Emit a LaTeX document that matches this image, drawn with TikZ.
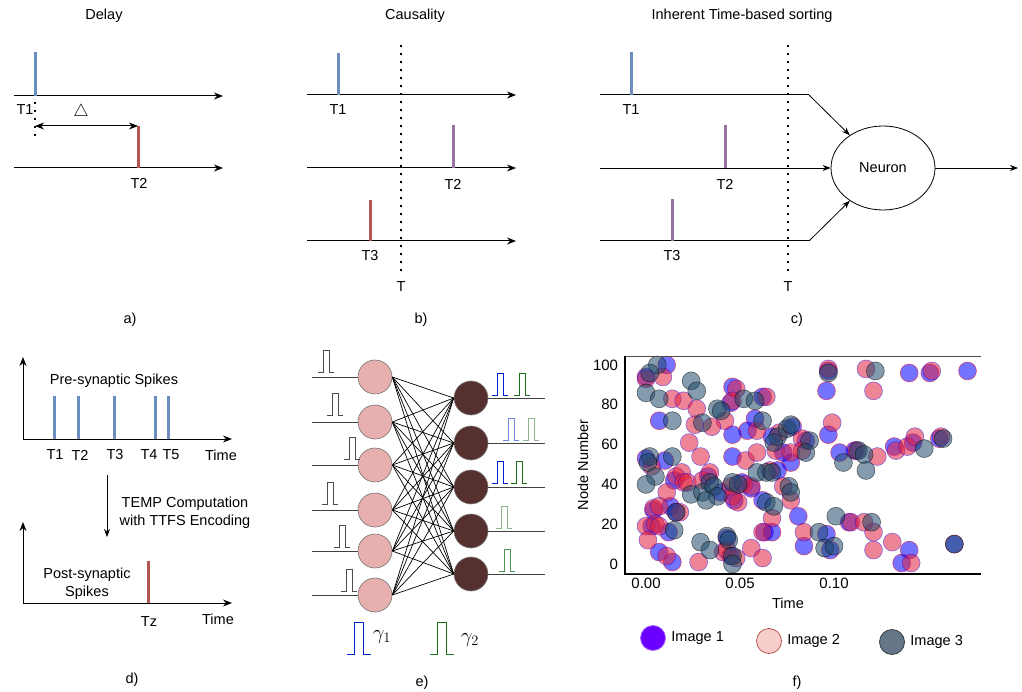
\documentclass[tikz,border=0pt]{standalone}
\usepackage{fontspec}
\setmainfont{Liberation Sans}
\usetikzlibrary{arrows.meta,shapes.geometric,positioning}

\definecolor{spikeblue}{HTML}{6C8EBF}
\definecolor{spikered}{HTML}{B85450}
\definecolor{spikepurple}{HTML}{9673A6}
\definecolor{inpink}{HTML}{E8AFAF}
\definecolor{outbrown}{HTML}{55302E}
\definecolor{dotblue}{HTML}{0000FF}
\definecolor{dotred}{HTML}{E02040}
\definecolor{dotgray}{HTML}{1F4A6A}
\definecolor{legblue}{HTML}{6A00FF}
\definecolor{legpink}{HTML}{F8CECC}
\definecolor{leggray}{HTML}{647687}
\definecolor{pulseblue}{HTML}{0022CC}
\definecolor{pulsegreen}{HTML}{1B6E1B}

\tikzset{
	axis/.style={line width=1pt, -{Stealth[length=9pt,width=7pt]}},
	both/.style={line width=1pt, {Stealth[length=9pt,width=7pt]}-{Stealth[length=9pt,width=7pt]}},
	feed/.style={line width=0.8pt, -{Stealth[length=8pt,width=6pt]}},
	plain/.style={line width=1pt},
	spike/.style={line width=3pt},
	cutline/.style={line width=2pt, dash pattern=on 2pt off 6pt},
	inneuron/.style={circle, fill=inpink, draw=black!55, line width=0.6pt, minimum size=34pt, inner sep=0pt},
	outneuron/.style={circle, fill=outbrown, draw=black!50, line width=0.6pt, minimum size=34pt, inner sep=0pt},
	link/.style={line width=0.7pt},
	img1/.style={fill=dotblue, fill opacity=0.55, draw=red, draw opacity=0.6, line width=0.5pt},
	img2/.style={fill=dotred, fill opacity=0.55, draw=blue, draw opacity=0.5, line width=0.5pt},
	img3/.style={fill=dotgray, fill opacity=0.55, draw=black, draw opacity=0.6, line width=0.5pt},
	legdot/.style={circle, minimum size=25pt, inner sep=0pt, line width=0.8pt},
	pics/pulse/.style={code={\draw (-8,0) -- (-3,0) -- (-3,-22) -- (3,-22) -- (3,0) -- (8,0);}}
}

\begin{document}
\begin{tikzpicture}[x=1pt, y=-1pt, font=\fontsize{14.5}{18}\selectfont]
	\useasboundingbox (0,0) rectangle (1022,692);

	% a) Delay
	\coordinate (a1s) at (14,96);
	\coordinate (a1e) at (223,96);
	\coordinate (a2s) at (14,168);
	\coordinate (a2e) at (223,168);
	\node (delay) at (104,16) {Delay};
	\draw[axis] (a1s) -- (a1e);
	\draw[axis] (a2s) -- (a2e);
	\draw[spike, spikeblue] (35,96) -- ++(0,-44);
	\draw[cutline] (35,102) -- (35,138);
	\draw[spike, spikered] (138,168) -- ++(0,-42);
	\draw[both] (35,126) -- (138,126);
	\node at (25,110) {T1};
	\node[font=\fontsize{19}{22}\selectfont] at (81,112) {$\triangle$};
	\node at (139,183) {T2};
	\node at (130,320) {a)};

	% b) Causality
	\coordinate (b1s) at (307,95);
	\coordinate (b1e) at (516,95);
	\coordinate (b2s) at (307,168);
	\coordinate (b2e) at (516,168);
	\coordinate (b3s) at (307,241);
	\coordinate (b3e) at (516,241);
	\node (causality) at (415,16) {Causality};
	\draw[axis] (b1s) -- (b1e);
	\draw[axis] (b2s) -- (b2e);
	\draw[axis] (b3s) -- (b3e);
	\draw[cutline] (401,45) -- (401,274);
	\draw[spike, spikeblue] (338,95) -- ++(0,-42);
	\draw[spike, spikepurple] (453,168) -- ++(0,-43);
	\draw[spike, spikered] (370,241) -- ++(0,-41);
	\node at (338,110) {T1};
	\node at (453,184) {T2};
	\node at (370,256) {T3};
	\node at (401,287) {T};
	\node at (421,320) {b)};

	% c) Inherent time-based sorting
	\node (sorting) at (742,16) {Inherent Time-based sorting};
	\node[ellipse, draw, line width=0.8pt, minimum width=104pt, minimum height=84pt] (neuron) at (883,168) {Neuron};
	\coordinate (c1s) at (600,95);
	\coordinate (c1b) at (809,95);
	\coordinate (c2s) at (600,168);
	\coordinate (c3s) at (600,241);
	\coordinate (c3b) at (809,241);
	\coordinate (cout) at (1018,168);
	\draw[plain] (c1s) -- (c1b);
	\draw[plain] (c3s) -- (c3b);
	\draw[feed] (c1b) -- (neuron);
	\draw[feed] (c2s) -- (neuron);
	\draw[feed] (c3b) -- (neuron);
	\draw[feed] (neuron) -- (cout);
	\draw[cutline] (788,45) -- (788,274);
	\draw[spike, spikeblue] (631,95) -- ++(0,-43);
	\draw[spike, spikepurple] (725,168) -- ++(0,-43);
	\draw[spike, spikepurple] (672,241) -- ++(0,-42);
	\node at (631,110) {T1};
	\node at (725,184) {T2};
	\node at (672,256) {T3};
	\node at (788,287) {T};
	\node at (797,320) {c)};

	% d) pre / post synaptic spikes
	\coordinate (d1o) at (23,439);
	\coordinate (d1y) at (23,357);
	\coordinate (d1x) at (232,439);
	\coordinate (d2o) at (23,603);
	\coordinate (d2y) at (23,522);
	\coordinate (d2x) at (232,603);
	\coordinate (dtop) at (107,475);
	\coordinate (dbot) at (107,537);
	\draw[axis] (d1o) -- (d1y);
	\draw[axis] (d1o) -- (d1x);
	\draw[axis] (d2o) -- (d2y);
	\draw[axis] (d2o) -- (d2x);
	\foreach \x in {54,78,114,155,168}
		\draw[spike, spikeblue] (\x,439) -- ++(0,-43);
	\draw[spike, spikered] (148,603) -- ++(0,-42);
	\draw[feed] (dtop) -- (dbot);
	\node at (114,381) {Pre-synaptic Spikes};
	\foreach \x/\lab in {55/T1,80/T2,115/T3,149/T4,171/T5}
		\node at (\x,455) {\lab};
	\node at (221,455) {Time};
	\node[align=center] at (185,513) {TEMP Computation\\with TTFS Encoding};
	\node[align=center] at (87,584) {Post-synaptic\\Spikes};
	\node at (149,622) {Tz};
	\node at (218,619) {Time};
	\node at (132,680) {d)};

	% e) network
	\foreach \k/\y in {1/377,2/422,3/465,4/510,5/551,6/595}
		\coordinate (ie\k) at (312,\y);
	\foreach \k/\y in {1/398,2/443,3/487,4/531,5/574}
		\coordinate (oe\k) at (545,\y);
	\foreach \k/\y in {1/377,2/422,3/465,4/510,5/551,6/595}
		\node[inneuron] (i\k) at (375,\y) {};
	\foreach \k/\y in {1/398,2/443,3/487,4/531,5/574}
		\node[outneuron] (o\k) at (471,\y) {};
	\foreach \k in {1,...,6}
		\draw[link, black!75] (ie\k) -- (i\k);
	\foreach \k in {1,...,5}
		\draw[link, black!75] (o\k) -- (oe\k);
	\foreach \a in {1,...,6}
		\foreach \b in {1,...,5}
			\draw[link] (i\a.east) -- (o\b.west);
	\foreach \x/\y in {326/372,335/415,352/459,330/504,342/547,349/591}
		\pic[black!70, line width=0.9pt] at (\x,\y) {pulse};
	\pic[pulseblue, line width=0.9pt] at (500,395) {pulse};
	\pic[pulsegreen, line width=0.9pt] at (522,395) {pulse};
	\pic[pulseblue, opacity=0.55, line width=0.9pt] at (511,440) {pulse};
	\pic[pulsegreen, opacity=0.5, line width=0.9pt] at (531,440) {pulse};
	\pic[pulseblue, line width=0.9pt] at (500,483) {pulse};
	\pic[pulsegreen, line width=0.9pt] at (519,483) {pulse};
	\pic[pulsegreen, opacity=0.5, line width=0.9pt] at (504,528) {pulse};
	\pic[pulsegreen, opacity=0.75, line width=0.9pt] at (507,571) {pulse};
	\pic[pulseblue, scale=1.45, line width=0.9pt] at (359,654) {pulse};
	\pic[pulsegreen, scale=1.45, line width=0.9pt] at (442,654) {pulse};
	\node[font=\fontsize{20}{22}\selectfont] at (382,637) {$\gamma_1$};
	\node[font=\fontsize{20}{22}\selectfont] at (470,640) {$\gamma_2$};
	\node at (422,683) {e)};

	% f) raster of the three images
	\coordinate (fo) at (625,574);
	\coordinate (ftop) at (625,356);
	\coordinate (fx) at (981,574);
	\coordinate (fxt) at (981,356);
	\begin{scope}[shift={(646,564)}, x=1880pt, y=1.99pt]
		\foreach \t/\n in {0.0/94,0.011/100,0.007/72,0.046/89,0.045/81,0.062/84,0.058/73,0.054/67,0.046/65,0.097/65,
			0.096/87,0.097/97,0.140/96,0.151/96,0.171/97,0.067/64,0.078/69,0.085/62,0.073/56,0.077/51,
			0.103/56,0.111/57,0.132/59,0.142/61,0.156/63,0.0/53,0.010/52,0.046/54,0.070/47,0.015/42,
			0.033/44,0.040/36,0.051/41,0.047/32,0.056/38,0.004/27,0.013/29,0.016/26,0.003/19,0.012/16,
			0.062/32,0.081/24,0.063/16,0.067/16,0.096/15,0.108/21,0.140/7,0.136/0.5,0.164/10,0.098/7,
			0.084/9,0.007/6,0.014/1,0.043/13,0.045/4}
			\path[img1] (\t,\n) circle[radius=9pt];
		\foreach \t/\n in {0.0/93,0.009/94,0.014/83,0.020/82,0.027/78,0.048/88,0.046/82,0.064/84,0.042/72,0.026/70,
			0.035/69,0.059/67,0.099/71,0.097/98,0.117/98,0.152/97,0.121/87,0.023/61,0.071/66,0.083/63,
			0.083/57,0.069/57,0.077/56,0.112/57,0.123/54,0.133/57,0.139/59,0.143/64,0.157/64,0.003/49,
			0.029/54,0.053/52,0.059/56,0.066/47,0.016/44,0.019/46,0.020/41,0.022/41,0.030/42,0.034/46,
			0.045/39,0.052/40,0.046/34,0.049/31,0.056/39,0.073/39,0.077/32,0.011/36,0.004/28,0.007/29,
			0.018/26,0.0/19,0.005/20,0.007/19,0.067/23,0.084/16,0.062/16,0.109/21,0.116/21,0.121/16,
			0.121/7,0.131/11,0.141/0.5,0.001/12,0.011/4,0.028/1,0.041/6,0.043/7,0.048/3,0.056/8,0.062/3}
			\path[img2] (\t,\n) circle[radius=9pt];
		\foreach \t/\n in {0.006/100,0.002/96,0.0/86,0.007/83,0.024/92,0.027/87,0.052/83,0.058/82,0.038/78,0.040/77,
			0.014/72,0.030/71,0.062/72,0.097/96,0.122/97,0.070/64,0.068/61,0.075/68,0.077/70,0.087/62,
			0.085/56,0.105/51,0.113/57,0.116/55,0.117/47,0.148/58,0.158/63,0.002/54,0.001/51,0.005/44,
			0.014/54,0.059/46,0.064/46,0.067/46,0.0/40,0.024/35,0.030/36,0.034/41,0.036/39,0.038/34,
			0.032/32,0.046/41,0.049/40,0.076/39,0.077/36,0.016/26,0.015/17,0.064/31,0.068/29,0.092/16,
			0.101/24,0.120/21,0.164/10,0.095/8,0.100/9,0.029/11,0.034/7,0.043/14,0.044/12,0.046/4,0.046/0}
			\path[img3] (\t,\n) circle[radius=9pt];
		\foreach \n in {0,20,...,100}
			\node[anchor=east, font=\fontsize{15}{18}\selectfont] at (-0.013,\n) {\n};
		\foreach \t in {0.00,0.05,0.10}
			\node[font=\fontsize{15}{18}\selectfont] at (\t,-9.5) {\t};
	\end{scope}
	\draw[black!70, line width=0.8pt] (ftop) -- (fxt);
	\draw[line width=2pt] (ftop) -- (fo) -- (fx);
	\node at (788,603) {Time};
	\node[rotate=90] at (583,465) {Node Number};
	\node[legdot, fill=legblue, draw=legblue!60] (leg1) at (653,638) {};
	\node[legdot, fill=legpink, draw=spikered] (leg2) at (769,641) {};
	\node[legdot, fill=leggray, draw=leggray!50!black] (leg3) at (892,642) {};
	\node[right=2pt of leg1] {Image 1};
	\node[right=2pt of leg2] {Image 2};
	\node[right=2pt of leg3] {Image 3};
	\node at (797,683) {f)};
\end{tikzpicture}
\end{document}
